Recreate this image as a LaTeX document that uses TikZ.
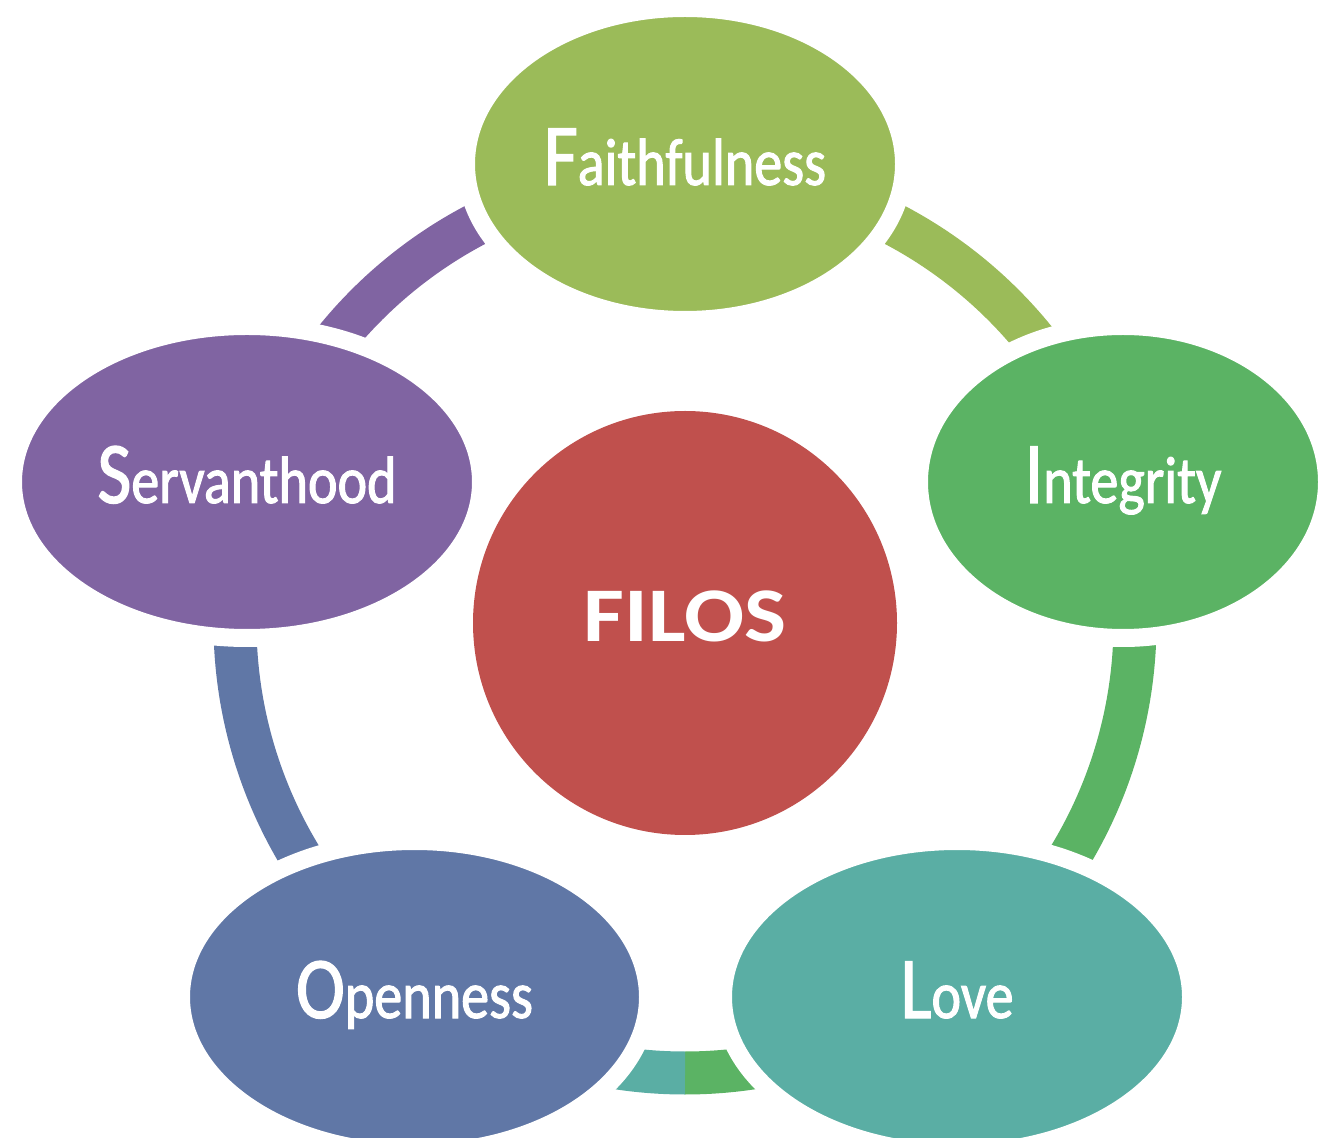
\documentclass[tikz,border=0pt]{standalone}
\usepackage{fontspec}
\setmainfont{Carlito}
\newfontfamily\valuefont[FakeStretch=0.84,FakeBold=1.5]{Carlito}
\newfontfamily\hubfont[FakeStretch=1.15]{Carlito}
\usetikzlibrary{positioning,shapes.geometric}
\definecolor{faithgreen}{HTML}{9BBB59}
\definecolor{integgreen}{HTML}{5BB364}
\definecolor{loveteal}{HTML}{5AAEA4}
\definecolor{openblue}{HTML}{6077A6}
\definecolor{servpurple}{HTML}{8064A2}
\definecolor{filosred}{HTML}{C0504D}
\newcommand{\firstletter}[1]{{\fontsize{25pt}{25pt}\selectfont #1}}

\begin{document}
\begin{tikzpicture}[
    value/.style={ellipse,draw=white,line width=0.18cm,inner sep=0pt,minimum height=3.12cm,
        text=white,font=\valuefont\fontsize{19pt}{19pt}\selectfont,text height=0.42cm,text depth=0pt},
    ring/.style={line width=0.43cm}
]
    \clip (0,0) rectangle (13.22,11.37);
    % Ring behind the values
    \coordinate (hub) at (6.85,5.14);
    \draw[ring,faithgreen] (hub) ++(90:4.5) arc[start angle=90,end angle=18,radius=4.5];
    \draw[ring,integgreen] (hub) ++(18:4.5) arc[start angle=18,end angle=-90,radius=4.5];
    \draw[ring,loveteal] (hub) ++(-90:4.5) arc[start angle=-90,end angle=-126,radius=4.5];
    \draw[ring,openblue] (hub) ++(234:4.5) arc[start angle=234,end angle=162,radius=4.5];
    \draw[ring,servpurple] (hub) ++(162:4.5) arc[start angle=162,end angle=90,radius=4.5];

    % Values
    \node[value,fill=faithgreen,minimum width=4.38cm] (faith) at (6.85,9.73) {\firstletter{F}aithfulness};
    \node[value,fill=integgreen,minimum width=4.08cm] (integ) at (11.23,6.55) {\firstletter{I}ntegrity};
    \node[value,fill=loveteal,minimum width=4.68cm] (love) at (9.57,1.40) {\firstletter{L}ove};
    \node[value,fill=openblue,minimum width=4.67cm] (open) at (4.145,1.40) {\firstletter{O}penness};
    \node[value,fill=servpurple,minimum width=4.68cm] (serv) at (2.47,6.55) {\firstletter{S}ervanthood};

    % Centre
    \node[circle,fill=filosred,inner sep=0pt,minimum size=4.24cm,text=white,
        font=\hubfont\bfseries\fontsize{22pt}{22pt}\selectfont,text height=0.37cm,text depth=0pt] (filos) at (hub) {FILOS};
\end{tikzpicture}
\end{document}
